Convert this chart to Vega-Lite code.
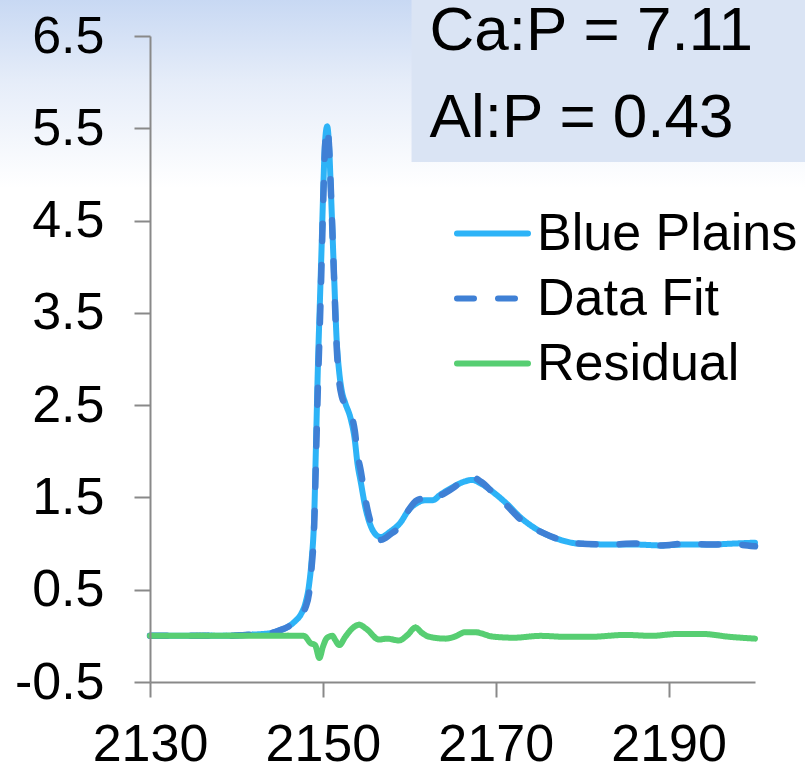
{
  "$schema": "https://vega.github.io/schema/vega-lite/v6.json",
  "width": 605,
  "height": 646,
  "autosize": "none",
  "padding": {"left": 150, "top": 36, "right": 50, "bottom": 88},
  "background": "white",
  "config": {"view": {"stroke": null}, "font": "Liberation Sans"},
  "datasets": {
    "spectra": [
      {"x": 2130, "series": "Blue Plains", "y": 0.0},
      {"x": 2133, "series": "Blue Plains", "y": 0.0},
      {"x": 2136, "series": "Blue Plains", "y": 0.0},
      {"x": 2139, "series": "Blue Plains", "y": 0.0},
      {"x": 2141, "series": "Blue Plains", "y": 0.01},
      {"x": 2143, "series": "Blue Plains", "y": 0.02},
      {"x": 2144, "series": "Blue Plains", "y": 0.03},
      {"x": 2145, "series": "Blue Plains", "y": 0.06},
      {"x": 2146, "series": "Blue Plains", "y": 0.1},
      {"x": 2146.8, "series": "Blue Plains", "y": 0.16},
      {"x": 2147.5, "series": "Blue Plains", "y": 0.24},
      {"x": 2148.0, "series": "Blue Plains", "y": 0.36},
      {"x": 2148.4, "series": "Blue Plains", "y": 0.55},
      {"x": 2148.7, "series": "Blue Plains", "y": 0.82},
      {"x": 2149.0, "series": "Blue Plains", "y": 1.3},
      {"x": 2149.2, "series": "Blue Plains", "y": 2.05},
      {"x": 2149.45, "series": "Blue Plains", "y": 3.0},
      {"x": 2149.65, "series": "Blue Plains", "y": 3.6},
      {"x": 2149.85, "series": "Blue Plains", "y": 4.2},
      {"x": 2150.05, "series": "Blue Plains", "y": 4.85},
      {"x": 2150.25, "series": "Blue Plains", "y": 5.35},
      {"x": 2150.5, "series": "Blue Plains", "y": 5.52},
      {"x": 2150.75, "series": "Blue Plains", "y": 5.25},
      {"x": 2150.9, "series": "Blue Plains", "y": 4.9},
      {"x": 2151.1, "series": "Blue Plains", "y": 4.4},
      {"x": 2151.3, "series": "Blue Plains", "y": 3.9},
      {"x": 2151.6, "series": "Blue Plains", "y": 3.2},
      {"x": 2151.9, "series": "Blue Plains", "y": 2.85},
      {"x": 2152.2, "series": "Blue Plains", "y": 2.65},
      {"x": 2152.6, "series": "Blue Plains", "y": 2.52},
      {"x": 2153.2, "series": "Blue Plains", "y": 2.36},
      {"x": 2153.7, "series": "Blue Plains", "y": 2.12},
      {"x": 2154.0, "series": "Blue Plains", "y": 1.87},
      {"x": 2154.4, "series": "Blue Plains", "y": 1.66},
      {"x": 2154.9, "series": "Blue Plains", "y": 1.4},
      {"x": 2155.5, "series": "Blue Plains", "y": 1.2},
      {"x": 2156.1, "series": "Blue Plains", "y": 1.1},
      {"x": 2156.7, "series": "Blue Plains", "y": 1.07},
      {"x": 2157.8, "series": "Blue Plains", "y": 1.13},
      {"x": 2159.0, "series": "Blue Plains", "y": 1.23},
      {"x": 2159.9, "series": "Blue Plains", "y": 1.36},
      {"x": 2160.9, "series": "Blue Plains", "y": 1.44},
      {"x": 2161.9, "series": "Blue Plains", "y": 1.47},
      {"x": 2162.7, "series": "Blue Plains", "y": 1.47},
      {"x": 2163.6, "series": "Blue Plains", "y": 1.53},
      {"x": 2165.2, "series": "Blue Plains", "y": 1.62},
      {"x": 2166.3, "series": "Blue Plains", "y": 1.67},
      {"x": 2167.3, "series": "Blue Plains", "y": 1.69},
      {"x": 2168.3, "series": "Blue Plains", "y": 1.65},
      {"x": 2169.8, "series": "Blue Plains", "y": 1.55},
      {"x": 2171.3, "series": "Blue Plains", "y": 1.43},
      {"x": 2172.9, "series": "Blue Plains", "y": 1.28},
      {"x": 2174.0, "series": "Blue Plains", "y": 1.2},
      {"x": 2175.6, "series": "Blue Plains", "y": 1.11},
      {"x": 2177.5, "series": "Blue Plains", "y": 1.04},
      {"x": 2179.5, "series": "Blue Plains", "y": 1.0},
      {"x": 2183.3, "series": "Blue Plains", "y": 0.99},
      {"x": 2186, "series": "Blue Plains", "y": 0.99},
      {"x": 2189.1, "series": "Blue Plains", "y": 0.98},
      {"x": 2192, "series": "Blue Plains", "y": 0.99},
      {"x": 2194.9, "series": "Blue Plains", "y": 0.99},
      {"x": 2197.5, "series": "Blue Plains", "y": 1.0},
      {"x": 2200, "series": "Blue Plains", "y": 1.01},

      {"x": 2130, "series": "Data Fit", "y": 0.0},
      {"x": 2133, "series": "Data Fit", "y": 0.0},
      {"x": 2136, "series": "Data Fit", "y": 0.0},
      {"x": 2139, "series": "Data Fit", "y": 0.0},
      {"x": 2141, "series": "Data Fit", "y": 0.01},
      {"x": 2143, "series": "Data Fit", "y": 0.02},
      {"x": 2144, "series": "Data Fit", "y": 0.03},
      {"x": 2145, "series": "Data Fit", "y": 0.06},
      {"x": 2146, "series": "Data Fit", "y": 0.1},
      {"x": 2146.8, "series": "Data Fit", "y": 0.16},
      {"x": 2147.5, "series": "Data Fit", "y": 0.24},
      {"x": 2148.0, "series": "Data Fit", "y": 0.31},
      {"x": 2148.4, "series": "Data Fit", "y": 0.46},
      {"x": 2148.7, "series": "Data Fit", "y": 0.74},
      {"x": 2149.0, "series": "Data Fit", "y": 1.2},
      {"x": 2149.2, "series": "Data Fit", "y": 1.9},
      {"x": 2149.45, "series": "Data Fit", "y": 2.78},
      {"x": 2149.65, "series": "Data Fit", "y": 3.36},
      {"x": 2149.85, "series": "Data Fit", "y": 4.03},
      {"x": 2150.05, "series": "Data Fit", "y": 4.73},
      {"x": 2150.25, "series": "Data Fit", "y": 5.29},
      {"x": 2150.5, "series": "Data Fit", "y": 5.5},
      {"x": 2150.75, "series": "Data Fit", "y": 5.25},
      {"x": 2150.9, "series": "Data Fit", "y": 4.9},
      {"x": 2151.1, "series": "Data Fit", "y": 4.4},
      {"x": 2151.3, "series": "Data Fit", "y": 3.87},
      {"x": 2151.6, "series": "Data Fit", "y": 3.13},
      {"x": 2151.9, "series": "Data Fit", "y": 2.75},
      {"x": 2152.2, "series": "Data Fit", "y": 2.59},
      {"x": 2152.6, "series": "Data Fit", "y": 2.51},
      {"x": 2153.2, "series": "Data Fit", "y": 2.42},
      {"x": 2153.7, "series": "Data Fit", "y": 2.22},
      {"x": 2154.0, "series": "Data Fit", "y": 1.98},
      {"x": 2154.4, "series": "Data Fit", "y": 1.78},
      {"x": 2154.9, "series": "Data Fit", "y": 1.49},
      {"x": 2155.5, "series": "Data Fit", "y": 1.24},
      {"x": 2156.1, "series": "Data Fit", "y": 1.1},
      {"x": 2156.7, "series": "Data Fit", "y": 1.04},
      {"x": 2157.8, "series": "Data Fit", "y": 1.1},
      {"x": 2159.0, "series": "Data Fit", "y": 1.2},
      {"x": 2159.9, "series": "Data Fit", "y": 1.36},
      {"x": 2160.9, "series": "Data Fit", "y": 1.47},
      {"x": 2161.9, "series": "Data Fit", "y": 1.49},
      {"x": 2162.7, "series": "Data Fit", "y": 1.47},
      {"x": 2163.6, "series": "Data Fit", "y": 1.52},
      {"x": 2165.2, "series": "Data Fit", "y": 1.61},
      {"x": 2166.3, "series": "Data Fit", "y": 1.7},
      {"x": 2167.3, "series": "Data Fit", "y": 1.72},
      {"x": 2168.3, "series": "Data Fit", "y": 1.67},
      {"x": 2169.8, "series": "Data Fit", "y": 1.54},
      {"x": 2171.3, "series": "Data Fit", "y": 1.41},
      {"x": 2172.9, "series": "Data Fit", "y": 1.26},
      {"x": 2174.0, "series": "Data Fit", "y": 1.19},
      {"x": 2175.6, "series": "Data Fit", "y": 1.11},
      {"x": 2177.5, "series": "Data Fit", "y": 1.04},
      {"x": 2179.5, "series": "Data Fit", "y": 1.0},
      {"x": 2183.3, "series": "Data Fit", "y": 0.99},
      {"x": 2186, "series": "Data Fit", "y": 1.0},
      {"x": 2189.1, "series": "Data Fit", "y": 0.98},
      {"x": 2192, "series": "Data Fit", "y": 1.0},
      {"x": 2194.9, "series": "Data Fit", "y": 0.99},
      {"x": 2197.5, "series": "Data Fit", "y": 0.99},
      {"x": 2200, "series": "Data Fit", "y": 0.97},

      {"x": 2130, "series": "Residual", "y": 0.0},
      {"x": 2135, "series": "Residual", "y": 0.0},
      {"x": 2140, "series": "Residual", "y": 0.0},
      {"x": 2144, "series": "Residual", "y": 0.0},
      {"x": 2147.8, "series": "Residual", "y": 0.0},
      {"x": 2148.6, "series": "Residual", "y": -0.08},
      {"x": 2149.1, "series": "Residual", "y": -0.1},
      {"x": 2149.6, "series": "Residual", "y": -0.24},
      {"x": 2150.0, "series": "Residual", "y": -0.12},
      {"x": 2150.5, "series": "Residual", "y": -0.02},
      {"x": 2151.1, "series": "Residual", "y": 0.0},
      {"x": 2151.4, "series": "Residual", "y": -0.04},
      {"x": 2151.9, "series": "Residual", "y": -0.1},
      {"x": 2152.6, "series": "Residual", "y": -0.01},
      {"x": 2153.4, "series": "Residual", "y": 0.08},
      {"x": 2154.2, "series": "Residual", "y": 0.12},
      {"x": 2155.1, "series": "Residual", "y": 0.07},
      {"x": 2156.5, "series": "Residual", "y": -0.04},
      {"x": 2157.4, "series": "Residual", "y": -0.03},
      {"x": 2158.8, "series": "Residual", "y": -0.05},
      {"x": 2159.8, "series": "Residual", "y": 0.01},
      {"x": 2160.7, "series": "Residual", "y": 0.09},
      {"x": 2161.5, "series": "Residual", "y": 0.03},
      {"x": 2162.3, "series": "Residual", "y": -0.01},
      {"x": 2164.2, "series": "Residual", "y": -0.03},
      {"x": 2165.2, "series": "Residual", "y": -0.01},
      {"x": 2166.5, "series": "Residual", "y": 0.04},
      {"x": 2167.5, "series": "Residual", "y": 0.04},
      {"x": 2169.8, "series": "Residual", "y": -0.01},
      {"x": 2172.1, "series": "Residual", "y": -0.02},
      {"x": 2175.2, "series": "Residual", "y": 0.0},
      {"x": 2178, "series": "Residual", "y": -0.01},
      {"x": 2181, "series": "Residual", "y": -0.01},
      {"x": 2185, "series": "Residual", "y": 0.01},
      {"x": 2188, "series": "Residual", "y": 0.0},
      {"x": 2191, "series": "Residual", "y": 0.02},
      {"x": 2194, "series": "Residual", "y": 0.02},
      {"x": 2197, "series": "Residual", "y": -0.01},
      {"x": 2200, "series": "Residual", "y": -0.03}
    ]
  },
  "layer": [
    {
      "data": {"values": [{}]},
      "mark": {
        "type": "rect",
        "clip": false,
        "fill": {
          "gradient": "linear", "x1": 0, "y1": 0, "x2": 0, "y2": 1,
          "stops": [
            {"offset": 0, "color": "#C7D8F3"},
            {"offset": 0.45, "color": "#E6EDF9"},
            {"offset": 1, "color": "#FFFFFF"}
          ]
        }
      },
      "encoding": {
        "x": {"datum": 2112, "type": "quantitative", "scale": {"domain": [2130, 2200], "nice": false, "zero": false},
          "axis": {"zindex": 1, "values": [2130, 2150, 2170, 2190], "title": null, "grid": false, "domainColor": "#898989", "domainWidth": 2, "tickColor": "#898989", "tickWidth": 2, "tickSize": 15, "labelFontSize": 52, "labelFont": "Liberation Sans", "labelColor": "black", "labelPadding": 22, "format": "d", "labelFlush": false, "labelOverlap": false}},
        "x2": {"datum": 2207},
        "y": {"datum": 6.92, "type": "quantitative", "scale": {"domain": [-0.5, 6.5], "nice": false, "zero": false},
          "axis": {"zindex": 1, "values": [-0.5, 0.5, 1.5, 2.5, 3.5, 4.5, 5.5, 6.5], "title": null, "grid": false, "domainColor": "#898989", "domainWidth": 2, "tickColor": "#898989", "tickWidth": 2, "tickSize": 16, "labelFontSize": 52, "labelFont": "Liberation Sans", "labelColor": "black", "labelPadding": 30, "labelFlush": false, "labelOverlap": false, "labelExpr": "datum.value < 0 ? '-' + format(-datum.value, '.1f') : format(datum.value, '.1f')"}},
        "y2": {"datum": 4.85}
      }
    },
    {
      "data": {"values": [{}]},
      "mark": {"type": "rect", "clip": false, "fill": "#DAE4F4"},
      "encoding": {
        "x": {"datum": 2160.26, "type": "quantitative"},
        "x2": {"datum": 2207},
        "y": {"datum": 6.92, "type": "quantitative"},
        "y2": {"datum": 5.135}
      }
    },
    {
      "data": {"values": [{"label": "Ca:P = 7.11"}]},
      "mark": {"type": "text", "clip": false, "align": "left", "baseline": "alphabetic", "fontSize": 62, "color": "black", "font": "Liberation Sans"},
      "encoding": {
        "x": {"datum": 2162.35, "type": "quantitative"},
        "y": {"datum": 6.348, "type": "quantitative"},
        "text": {"field": "label"}
      }
    },
    {
      "data": {"values": [{"label": "Al:P = 0.43"}]},
      "mark": {"type": "text", "clip": false, "align": "left", "baseline": "alphabetic", "fontSize": 62, "color": "black", "font": "Liberation Sans"},
      "encoding": {
        "x": {"datum": 2162.35, "type": "quantitative"},
        "y": {"datum": 5.406, "type": "quantitative"},
        "text": {"field": "label"}
      }
    },
    {
      "data": {"name": "spectra"},
      "transform": [{"filter": "datum.series === 'Blue Plains'"}],
      "mark": {"type": "line", "strokeWidth": 6, "strokeCap": "round", "strokeJoin": "round", "interpolate": "monotone"},
      "encoding": {
        "x": {"field": "x", "type": "quantitative", "title": null},
        "y": {"field": "y", "type": "quantitative", "title": null},
        "color": {"field": "series", "type": "nominal", "scale": {"domain": ["Blue Plains", "Data Fit", "Residual"], "range": ["#2DB3F7", "#3F80D5", "#57CE72"]},
          "legend": {"title": null, "orient": "none", "legendX": 304, "legendY": 159, "direction": "vertical", "symbolType": "stroke", "symbolSize": 5041, "symbolStrokeWidth": 6, "labelFontSize": 52, "labelFont": "Liberation Sans", "labelColor": "black", "labelOffset": 6, "rowPadding": 0, "padding": 0, "labelLimit": 0, "encode": {"symbols": {"update": {"strokeCap": {"value": "round"}}}}}},
        "strokeDash": {"field": "series", "type": "nominal", "scale": {"domain": ["Blue Plains", "Data Fit", "Residual"], "range": [[1, 0], [17, 24], [1, 0]]},
          "legend": {"title": null, "orient": "none", "legendX": 304, "legendY": 159, "direction": "vertical", "symbolType": "stroke", "symbolSize": 5041, "symbolStrokeWidth": 6, "labelFontSize": 52, "labelFont": "Liberation Sans", "labelColor": "black", "labelOffset": 6, "rowPadding": 0, "padding": 0, "labelLimit": 0, "encode": {"symbols": {"update": {"strokeCap": {"value": "round"}}}}}}
      }
    },
    {
      "data": {"name": "spectra"},
      "transform": [{"filter": "datum.series === 'Data Fit'"}],
      "mark": {"type": "line", "strokeWidth": 6.5, "strokeCap": "round", "strokeJoin": "round", "interpolate": "monotone"},
      "encoding": {
        "x": {"field": "x", "type": "quantitative", "title": null},
        "y": {"field": "y", "type": "quantitative", "title": null},
        "color": {"field": "series", "type": "nominal"},
        "strokeDash": {"field": "series", "type": "nominal"}
      }
    },
    {
      "data": {"name": "spectra"},
      "transform": [{"filter": "datum.series === 'Residual'"}],
      "mark": {"type": "line", "strokeWidth": 6, "strokeCap": "round", "strokeJoin": "round", "interpolate": "monotone"},
      "encoding": {
        "x": {"field": "x", "type": "quantitative", "title": null},
        "y": {"field": "y", "type": "quantitative", "title": null},
        "color": {"field": "series", "type": "nominal"},
        "strokeDash": {"field": "series", "type": "nominal"}
      }
    }
  ]
}
